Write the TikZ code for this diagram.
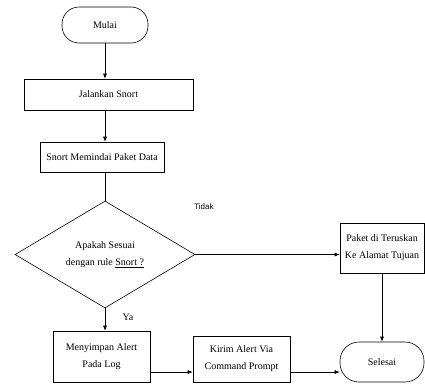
\documentclass[tikz,border=0pt]{standalone}
\usepackage{fontspec}
\setmainfont{Liberation Serif}
\newfontfamily\labelfont{Liberation Sans}
\usepackage{tikz}
\usetikzlibrary{shapes.geometric,arrows.meta}

\begin{document}
\begin{tikzpicture}[x=1pt,y=-1pt,
    line width=0.6pt,
    font=\fontsize{10}{17}\selectfont,
    arr/.style={-{Latex[length=5pt,width=4pt]}},
    terminal/.style={draw,rounded corners=17pt,inner sep=0pt},
    process/.style={draw,inner sep=0pt,align=center},
    decision/.style={draw,diamond,inner sep=0pt,align=center}]
    \useasboundingbox (0,0) rectangle (425,383);
    % nodes
    \node[terminal,minimum width=86pt,minimum height=36pt] (mulai) at (105,25) {Mulai};
    \node[process,minimum width=169pt,minimum height=31pt] (jalankan) at (108.5,94.5) {Jalankan Snort};
    \node[process,minimum width=124pt,minimum height=30pt] (memindai) at (102,157) {Snort Memindai Paket Data};
    \node[decision,minimum width=180pt,minimum height=107pt] (cek) at (105,254.5)
      {Apakah Sesuai\\dengan rule \underline{Snort ?}};
    \node[process,minimum width=84pt,minimum height=50pt] (paket) at (382,248)
      {Paket di Teruskan\\Ke Alamat Tujuan};
    \node[process,minimum width=97pt,minimum height=51pt] (simpan) at (101.5,356.5)
      {Menyimpan Alert\\Pada Log};
    \node[process,minimum width=97pt,minimum height=46pt] (kirim) at (241.5,359)
      {Kirim Alert Via\\Command Prompt};
    \node[terminal,minimum width=84pt,minimum height=40pt,rounded corners=19pt] (selesai) at (382,362) {Selesai};
    % connectors
    \draw[arr] (mulai.south) -- (mulai.south |- jalankan.north);
    \draw[arr] (mulai.south |- jalankan.south) -- (mulai.south |- memindai.north);
    \draw (mulai.south |- memindai.south) -- (cek.north);
    \draw[arr] (cek.south) -- (cek.south |- simpan.north);
    \draw[arr] (cek.east) -- (cek.east -| paket.west);
    \draw[arr] (paket.south) -- (selesai.north);
    \draw[arr] (simpan.east |- 0,372) -- (kirim.west |- 0,372);
    \draw[arr] (kirim.east |- 0,372) -- (selesai.west |- 0,372);
    % labels
    \node[font=\labelfont\fontsize{8}{9}\selectfont] (tidak) at (204,207) {Tidak};
    \node (ya) at (128,317) {Ya};
\end{tikzpicture}
\end{document}
